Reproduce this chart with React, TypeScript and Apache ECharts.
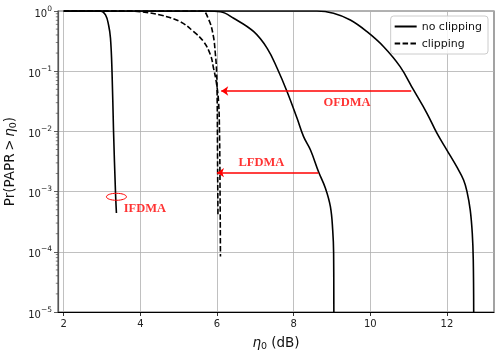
import React, { useEffect, useRef } from "react";
import * as echarts from "echarts";

// ---- axis ----
const X_MIN = 1.85;
const X_MAX = 13.23;
const xTicks = [2, 4, 6, 8, 10, 12];
const Y_MIN = 1e-5;
const Y_MAX = 1;

// ---- no clipping curves ----
const ifdmaEta = [2.0, 2.88, 2.96, 3.09, 3.17, 3.22, 3.26, 3.3, 3.35, 3.375];
const ifdmaP = [1, 1, 1, 0.86, 0.585, 0.352, 0.098, 0.0099, 0.001, 0.00044];

const lfdmaEta = [2.0, 5.75, 6.09, 6.435, 6.96, 7.31, 7.57, 7.83, 8.09, 8.26, 8.44, 8.65, 8.83, 8.96, 9.02, 9.044, 9.05];
const lfdmaP = [1, 1, 0.973, 0.757, 0.453, 0.24, 0.112, 0.0457, 0.0165, 0.00817, 0.00491, 0.00214, 0.00114, 0.000562, 0.00023, 0.0000955, 0.00001];

const ofdmaEta = [2.0, 8.61, 9.04, 9.48, 9.915, 10.35, 10.78, 11.13, 11.48, 11.74, 12.0, 12.26, 12.436, 12.525, 12.61, 12.663, 12.689, 12.7];
const ofdmaP = [1, 1, 0.916, 0.708, 0.453, 0.255, 0.119, 0.0488, 0.02, 0.00933, 0.0049, 0.00257, 0.00156, 0.001, 0.000494, 0.000203, 0.0000731, 0.00001];

// ---- clipping curves ----
const ofdmaClipEta = [2.0, 3.74, 4.0, 4.52, 5.04, 5.39, 5.65, 5.83, 5.91, 5.98, 6.04, 6.065, 6.08, 6.09];
const ofdmaClipP = [1, 1, 0.975, 0.859, 0.665, 0.454, 0.31, 0.186, 0.112, 0.067, 0.0316, 0.01, 0.001, 0.0000832];

const lfdmaClipEta = [2.0, 5.61, 5.78, 5.9, 5.96, 5.99, 6.005, 6.015, 6.025];
const lfdmaClipP = [1, 1, 0.728, 0.399, 0.186, 0.0982, 0.0316, 0.00316, 0.000407];

// ---- annotations ----
const arrowOfdma = { from: [11.07, 0.0469], to: [6.11, 0.0469] };
const arrowLfdma = { from: [8.645, 0.00206], to: [6.0, 0.00206] };
const labelNames = ["OFDMA", "LFDMA", "IFDMA"];
const labelEta = [9.394, 7.158, 4.118];
const labelP = [0.0304, 0.0031, 0.00054];
const ellipseCenter = [3.375, 0.00082];

const zip = (a: number[], b: number[]) => a.map((v, i) => [v, b[i]]);

const minorTickValues: number[] = [];
for (let d = -5; d < 0; d++) {
  for (let k = 2; k <= 9; k++) minorTickValues.push(k * Math.pow(10, d));
}

const FONT = "DejaVu Sans";
const DASH = [5.5, 2.4];

const curveStyle = (dashed: boolean) => ({
  type: "line",
  symbol: "none",
  smooth: 0.4,
  z: 3,
  silent: true,
  lineStyle: { color: "#000", width: 1.6, type: dashed ? DASH : "solid" },
  itemStyle: { color: "#000" },
});

const supRich = {
  b: { fontSize: 10, fontFamily: FONT, color: "#222", lineHeight: 14, verticalAlign: "bottom" },
  s: { fontSize: 7.5, fontFamily: FONT, color: "#222", lineHeight: 5, verticalAlign: "top" },
};

const nameRich = {
  a: { fontSize: 13.5, fontFamily: FONT, color: "#111", lineHeight: 16, verticalAlign: "middle" },
  e: { fontSize: 13.5, fontFamily: FONT, fontStyle: "italic", color: "#111", lineHeight: 16, verticalAlign: "middle" },
  s: { fontSize: 9.5, fontFamily: FONT, color: "#111", lineHeight: 10, verticalAlign: "bottom" },
};

export default function App() {
  const ref = useRef<HTMLDivElement>(null);
  useEffect(() => {
    const chart = echarts.init(ref.current!, null, { renderer: "svg" });
    const option: any = {
      animation: false,
      textStyle: { fontFamily: FONT },
      grid: {
        left: 58,
        right: 5,
        top: 11,
        bottom: 40,
        outerBoundsMode: "none",
        containLabel: false,
        show: true,
        borderColor: "#666",
        borderWidth: 1.2,
        backgroundColor: "#fff",
      },
      legend: {
        data: ["no clipping", "clipping"],
        orient: "vertical",
        right: 11,
        top: 16,
        itemWidth: 22,
        itemHeight: 10,
        itemGap: 6,
        padding: [5, 6, 5, 3],
        backgroundColor: "rgba(255,255,255,0.85)",
        borderColor: "#cccccc",
        borderWidth: 1,
        borderRadius: 3,
        itemStyle: { opacity: 0 },
        textStyle: { fontFamily: FONT, fontSize: 11, color: "#111" },
      },
      xAxis: {
        type: "value",
        min: X_MIN,
        max: X_MAX,
        axisLine: { show: true, onZero: false, lineStyle: { color: "#000", width: 1 } },
        axisTick: { show: true, length: 4, customValues: xTicks, lineStyle: { color: "#000", width: 0.8 } },
        axisLabel: { customValues: xTicks, margin: 6, fontSize: 10, color: "#222", fontFamily: FONT },
        splitLine: { show: false },
        name: "{e|η}{s|0}{a| (dB)}",
        nameLocation: "middle",
        nameGap: 22,
        nameTextStyle: { rich: nameRich },
      },
      yAxis: {
        type: "log",
        logBase: 10,
        min: Y_MIN,
        max: Y_MAX,
        axisLine: { show: true, lineStyle: { color: "#555", width: 1.2 } },
        axisTick: { show: true, length: 4, lineStyle: { color: "#333", width: 0.8 } },
        axisLabel: {
          margin: 6,
          formatter: (v: number) => {
            const e = Math.round(Math.log10(v));
            return `{b|10}{s|${e < 0 ? "\u2212" + -e : e}}`;
          },
          rich: supRich,
        },
        splitLine: { show: true, lineStyle: { color: "#b0b0b0", width: 0.8 } },
        name: "{a|Pr(PAPR\u2009>\u2009}{e|η}{s|0}{a|)}",
        nameLocation: "middle",
        nameGap: 35,
        nameTextStyle: { rich: nameRich },
      },
      series: [
        {
          name: "xgrid",
          type: "line",
          data: [],
          markLine: {
            silent: true,
            z: 1,
            symbol: ["none", "none"],
            label: { show: false },
            lineStyle: { color: "#b0b0b0", width: 0.8, type: "solid" },
            data: xTicks.map((v) => ({ xAxis: v })),
          },
        },
        {
          name: "minorTicks",
          type: "custom",
          silent: true,
          data: minorTickValues.map((v) => [X_MIN, v]),
          renderItem: (params: any, api: any) => {
            const p = api.coord([api.value(0), api.value(1)]);
            return {
              type: "line",
              shape: { x1: p[0] - 2.2, y1: p[1], x2: p[0], y2: p[1] },
              style: { stroke: "#333", lineWidth: 0.6 },
            };
          },
        },
        { ...curveStyle(false), name: "no clipping", data: zip(ifdmaEta, ifdmaP) },
        { ...curveStyle(false), name: "no clipping", data: zip(lfdmaEta, lfdmaP) },
        { ...curveStyle(false), name: "no clipping", data: zip(ofdmaEta, ofdmaP) },
        { ...curveStyle(true), name: "clipping", data: zip(ofdmaClipEta, ofdmaClipP) },
        { ...curveStyle(true), name: "clipping", data: zip(lfdmaClipEta, lfdmaClipP) },
        {
          name: "labels",
          type: "scatter",
          silent: true,
          z: 6,
          symbolSize: 1,
          itemStyle: { color: "rgba(0,0,0,0)" },
          data: labelNames.map((n, i) => [labelEta[i], labelP[i], n]),
          label: {
            show: true,
            position: "inside",
            formatter: (p: any) => p.value[2],
            color: "#ff0000",
            fontFamily: "Liberation Serif",
            fontWeight: "bold",
            fontSize: 12.5,
          },
          markLine: {
            silent: true,
            z: 6,
            symbol: ["none", "arrow"],
            symbolSize: 7,
            label: { show: false },
            lineStyle: { color: "#ff0000", width: 1.5, type: "solid" },
            data: [
              [{ coord: arrowOfdma.from }, { coord: arrowOfdma.to }],
              [{ coord: arrowLfdma.from }, { coord: arrowLfdma.to }],
            ],
          },
        },
        {
          name: "ellipse",
          type: "custom",
          silent: true,
          z: 6,
          data: [ellipseCenter],
          renderItem: (params: any, api: any) => {
            const p = api.coord([api.value(0), api.value(1)]);
            return {
              type: "ellipse",
              shape: { cx: p[0], cy: p[1], rx: 10, ry: 3.5 },
              style: { stroke: "#ff0000", fill: "none", lineWidth: 1 },
            };
          },
        },
      ],
    };
    chart.setOption(option);
    return () => chart.dispose();
  }, []);
  return <div ref={ref} style={{ position: "fixed", left: 0, top: 0, width: 499, height: 352 }} />;
}
